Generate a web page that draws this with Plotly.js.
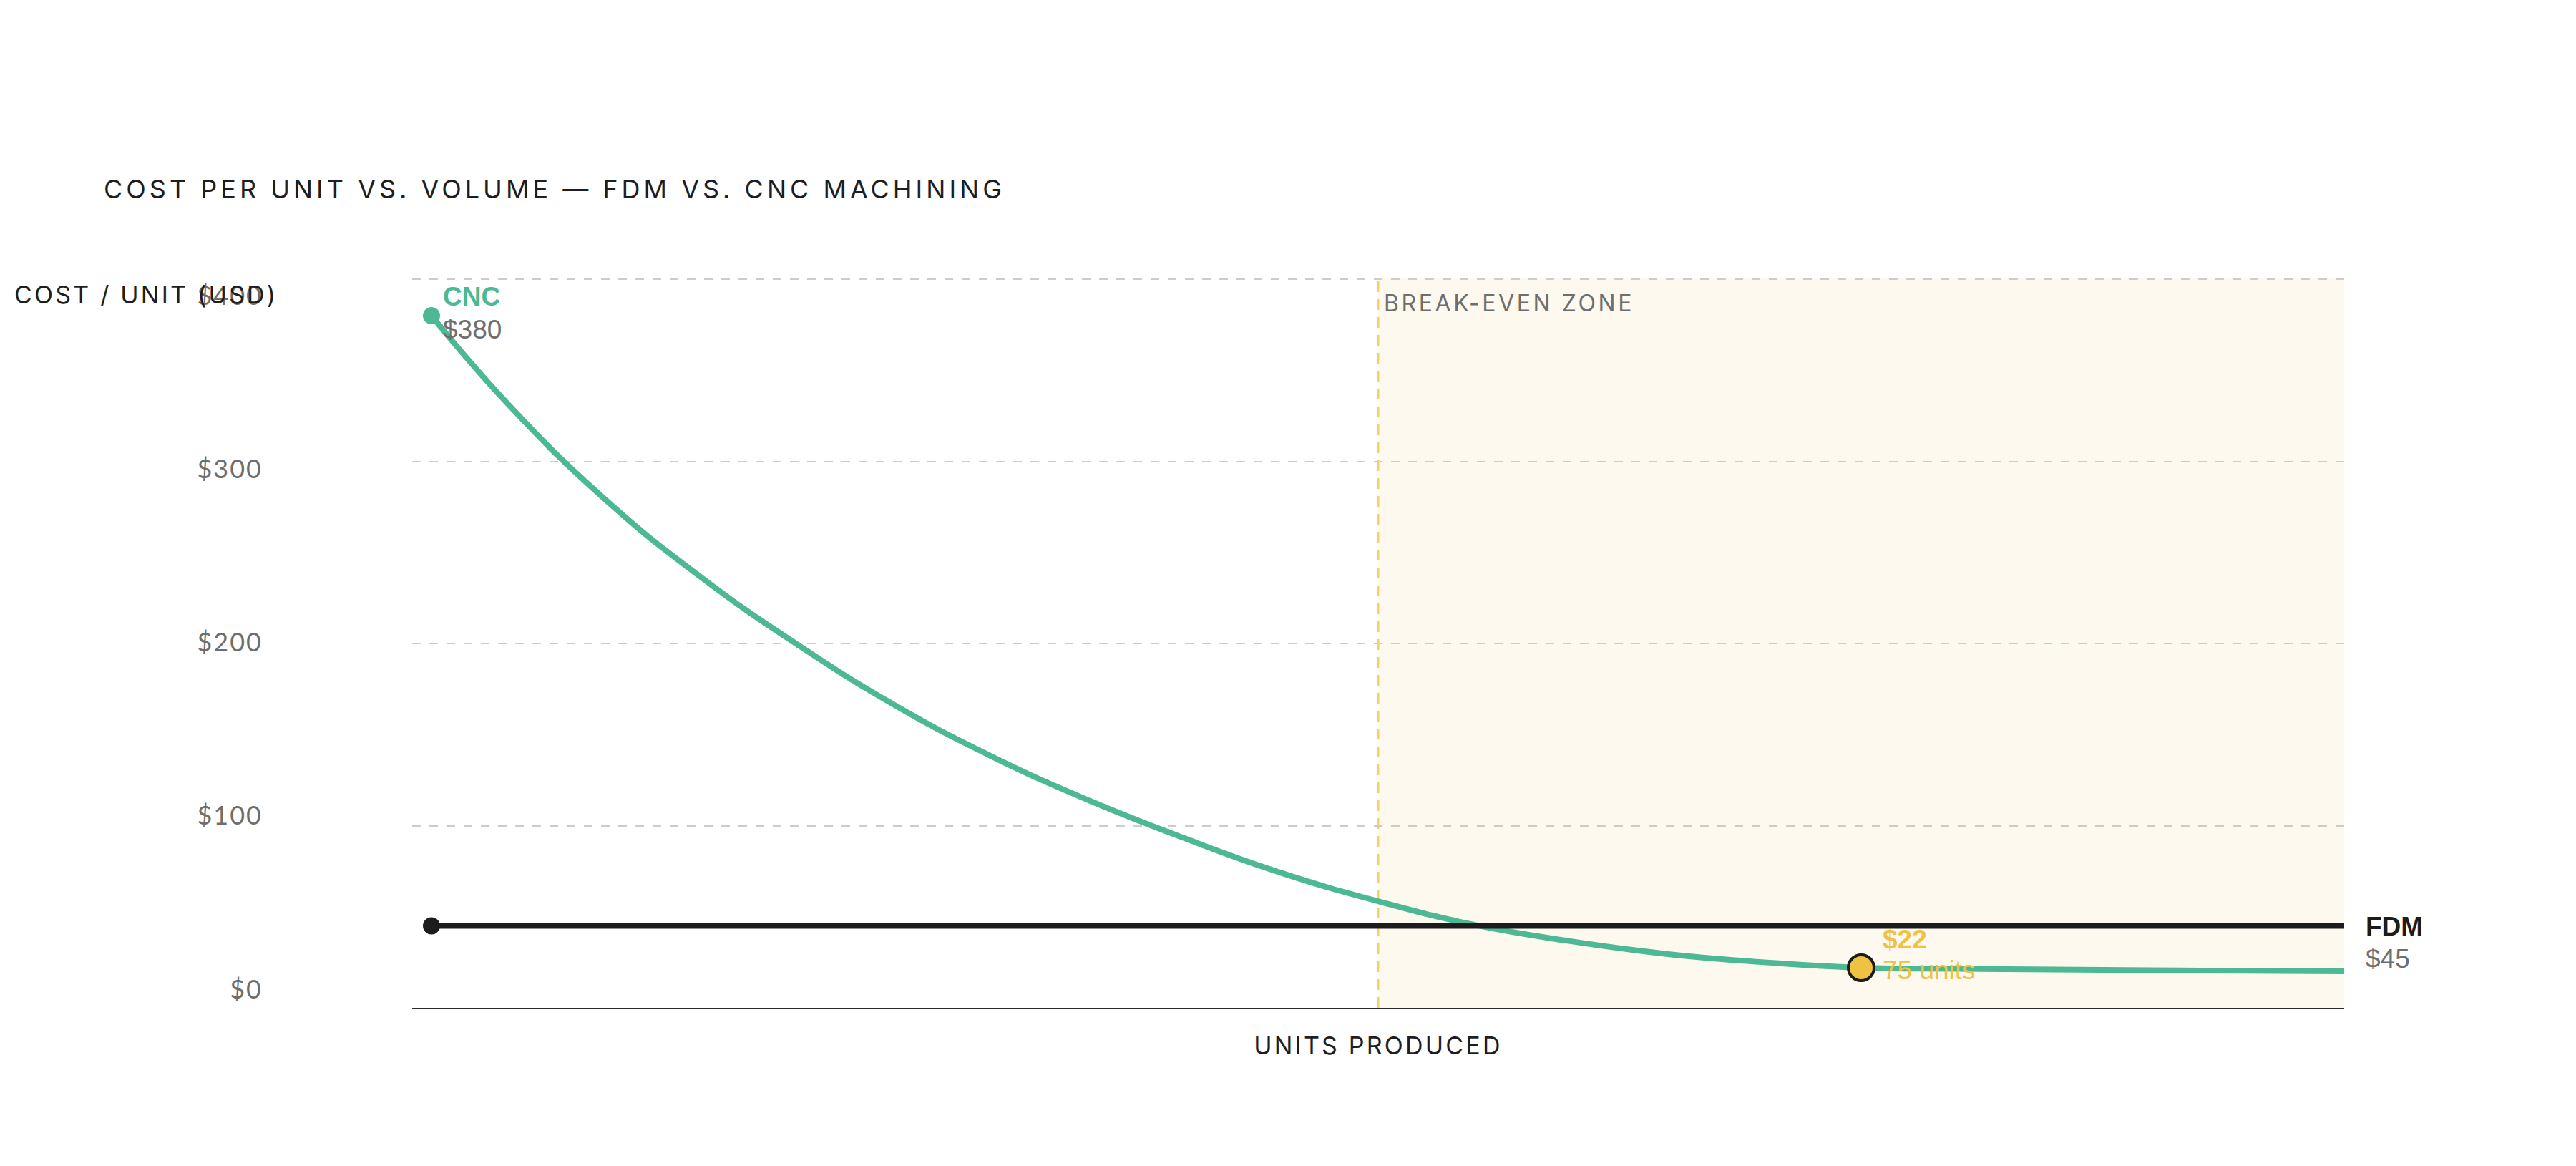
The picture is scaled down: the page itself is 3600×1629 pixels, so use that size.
<!DOCTYPE html>
<html>
<head>
<meta charset="utf-8">
<script src="https://cdn.plot.ly/plotly-3.0.1.min.js"></script>
<style>
  body { margin: 0; background: #ffffff; }
  #chart { width: 3600px; height: 1629px; }
  .gtitle { letter-spacing: 5px; }
  .g-xtitle text { letter-spacing: 3.2px; }
  .y2tick text { letter-spacing: 2px; }
  .annotation[data-index="0"] text { letter-spacing: 3.2px; }
  .annotation[data-index="1"] text { letter-spacing: 3.6px; }
</style>
</head>
<body>
<div id="chart"></div>
<script>
// values -------------------------------------------------------------------
const units = [1, 5, 10, 15, 20, 25, 30, 35, 40, 45, 50, 55, 60, 65, 70, 75, 80, 85, 90, 95, 100];
const cncCost = [380, 331, 279, 236, 199, 166, 138, 114, 93, 74, 58.5, 45.5, 36.5, 29.5, 25, 22, 21.4, 21, 20.6, 20.3, 20];
const fdmUnits = [1, 100];
const fdmCost = [45, 45];
const breakEvenUnits = [75];
const breakEvenCost = [22];
const zoneStart = 50;
const zoneEnd = 100;
const yTickVals = [0, 100, 200, 300, 400];
const yTickText = ["$0", "$100", "$200", "$300", "$400"];

const green = "#4cb994";
const ink = "#1c1c1c";
const gold = "#f0c243";
const grey = "#6e6e6e";

const data = [
    {
        x: units, y: cncCost, mode: "lines", name: "CNC",
        line: { color: green, width: 8, shape: "spline", smoothing: 1.3 },
        hoverinfo: "skip"
    },
    {
        x: fdmUnits, y: fdmCost, mode: "lines", name: "FDM",
        line: { color: ink, width: 8 },
        hoverinfo: "skip"
    },
    // start dots
    {
        x: [units[0]], y: [cncCost[0]], mode: "markers",
        marker: { color: green, size: 24, opacity: 1 }, hoverinfo: "skip"
    },
    {
        x: [fdmUnits[0]], y: [fdmCost[0]], mode: "markers",
        marker: { color: ink, size: 24, opacity: 1 }, hoverinfo: "skip"
    },
    {
        x: breakEvenUnits, y: breakEvenCost, mode: "markers", name: "Break-even",
        marker: { color: gold, size: 36, opacity: 1, line: { color: ink, width: 4 } },
        hoverinfo: "skip"
    },
    // carries the tick labels only
    {
        x: [zoneStart], y: [0], yaxis: "y2", mode: "markers",
        marker: { opacity: 0 }, showlegend: false, hoverinfo: "skip"
    }
];

const labelFont = { family: "Liberation Sans, Arial, sans-serif", size: 37 };

const layout = {
    width: 3600,
    height: 1629,
    paper_bgcolor: "#ffffff",
    plot_bgcolor: "rgba(0,0,0,0)",
    showlegend: false,
    margin: { l: 370, r: 324, t: 389, b: 221 },
    font: { family: "Inter, Lato, sans-serif", color: "#222222" },
    title: {
        text: "COST PER UNIT VS. VOLUME — FDM VS. CNC MACHINING",
        font: { family: "Inter, sans-serif", size: 36, color: "#1e1e1e" },
        xref: "container", yref: "container",
        x: 145 / 3600, xanchor: "left",
        y: 1 - 264 / 1629, yanchor: "middle"
    },
    xaxis: {
        domain: [(576 - 370) / 2906, 1],
        range: [0, 100],
        showgrid: false, zeroline: false, showticklabels: false, ticks: "",
        showline: true, linecolor: "#2b2b2b", linewidth: 2,
        title: {
            text: "UNITS PRODUCED",
            font: { family: "Inter, sans-serif", size: 34, color: "#1e1e1e" },
            standoff: 40
        }
    },
    yaxis: {
        range: [0, 400.4],
        tickvals: yTickVals,
        showticklabels: false, ticks: "",
        showgrid: true, gridcolor: "#cccccc", gridwidth: 2, griddash: "12px,12px",
        zeroline: false, showline: false
    },
    yaxis2: {
        overlaying: "y", anchor: "free", position: 0, side: "left",
        range: [-10.7, 409.9],
        tickvals: yTickVals, ticktext: yTickText,
        tickfont: { family: "Lato, sans-serif", size: 36, color: grey },
        ticklabelstandoff: 3,
        showgrid: false, zeroline: false, showline: false, ticks: ""
    },
    shapes: [
        {
            type: "rect", layer: "below", xref: "x", yref: "paper",
            x0: zoneStart, x1: zoneEnd, y0: 0, y1: 1,
            fillcolor: "#fdf9ef", line: { width: 0 }
        },
        {
            type: "line", layer: "below", xref: "x", yref: "paper",
            x0: zoneStart, x1: zoneStart, y0: 0, y1: 1,
            line: { color: "#f3cf6e", width: 3, dash: "15px,10px" }
        }
    ],
    annotations: [
        {
            text: "COST / UNIT (USD)", xref: "paper", yref: "paper",
            x: (18 - 370) / 2906, y: (1408 - 412) / 1019,
            xanchor: "left", yanchor: "middle", align: "left", showarrow: false,
            font: { family: "Inter, sans-serif", size: 34, color: "#1e1e1e" }
        },
        {
            text: "BREAK-EVEN ZONE", xref: "x", yref: "y",
            x: zoneStart, y: 400, xanchor: "left", yanchor: "middle", align: "left",
            xshift: 6, yshift: -33, showarrow: false,
            font: { family: "Inter, sans-serif", size: 32, color: grey }
        },
        {
            text: "<b>CNC</b>", xref: "x", yref: "y", x: units[0], y: cncCost[0],
            xanchor: "left", yanchor: "middle", align: "left", xshift: 14, yshift: 26,
            showarrow: false, font: Object.assign({}, labelFont, { color: green })
        },
        {
            text: "$" + cncCost[0], xref: "x", yref: "y", x: units[0], y: cncCost[0],
            xanchor: "left", yanchor: "middle", align: "left", xshift: 14, yshift: -20,
            showarrow: false, font: Object.assign({}, labelFont, { color: grey })
        },
        {
            text: "<b>FDM</b>", xref: "x", yref: "y", x: fdmUnits[1], y: fdmCost[1],
            xanchor: "left", yanchor: "middle", align: "left", xshift: 28, yshift: -1,
            showarrow: false, font: Object.assign({}, labelFont, { color: ink })
        },
        {
            text: "$" + fdmCost[1], xref: "x", yref: "y", x: fdmUnits[1], y: fdmCost[1],
            xanchor: "left", yanchor: "middle", align: "left", xshift: 28, yshift: -46,
            showarrow: false, font: Object.assign({}, labelFont, { color: grey })
        },
        {
            text: "<b>$" + breakEvenCost[0] + "</b>", xref: "x", yref: "y",
            x: breakEvenUnits[0], y: breakEvenCost[0],
            xanchor: "left", yanchor: "middle", align: "left", xshift: 28, yshift: 40,
            showarrow: false, font: Object.assign({}, labelFont, { color: gold })
        },
        {
            text: breakEvenUnits[0] + " units", xref: "x", yref: "y",
            x: breakEvenUnits[0], y: breakEvenCost[0],
            xanchor: "left", yanchor: "middle", align: "left", xshift: 28, yshift: -3,
            showarrow: false, font: Object.assign({}, labelFont, { color: gold })
        }
    ]
};

Plotly.newPlot("chart", data, layout, { displayModeBar: false, staticPlot: true });
</script>
</body>
</html>
